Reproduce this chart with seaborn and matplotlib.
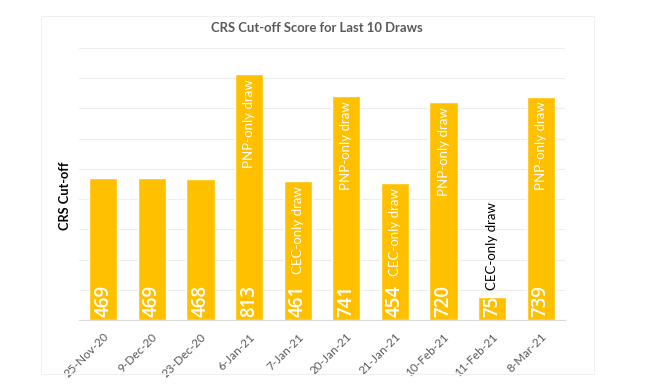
import matplotlib
matplotlib.use("Agg")
import matplotlib.pyplot as plt
import matplotlib.patches as mpatches
import seaborn as sns

# data
draw_dates = ["25-Nov-20", "9-Dec-20", "23-Dec-20", "6-Jan-21", "7-Jan-21",
              "20-Jan-21", "21-Jan-21", "10-Feb-21", "11-Feb-21", "8-Mar-21"]
crs_scores = [469, 469, 468, 813, 461, 741, 454, 720, 75, 739]
draw_notes = ["", "", "", "PNP-only draw", "CEC-only draw", "PNP-only draw",
              "CEC-only draw", "PNP-only draw", "CEC-only draw", "PNP-only draw"]
y_ticks = [0, 100, 200, 300, 400, 500, 600, 700, 800, 900]

BAR_COLOR = "#FFC000"
GREY_TEXT = "#595959"


def main():
    sns.set_style("white")
    plt.rcParams["font.family"] = ["Lato", "DejaVu Sans"]

    fig = plt.figure(figsize=(6.45, 3.9), dpi=100)
    ax = fig.add_axes([0.1225, 0.1795, 0.7535, 0.6975])

    # faint chart-area border like the Excel export
    fig.patches.append(mpatches.Rectangle(
        (0.0636, 0.041), 0.857, 0.918, transform=fig.transFigure,
        fill=False, edgecolor="#F0F0F0", linewidth=0.8, zorder=0))

    sns.barplot(x=draw_dates, y=crs_scores, color=BAR_COLOR, saturation=1,
                width=0.58, ax=ax, zorder=3)

    ax.set_ylim(0, 900)
    ax.set_xlim(-0.5, len(draw_dates) - 0.5)
    ax.set_yticks(y_ticks)
    ax.set_yticklabels([])
    ax.tick_params(axis="y", length=0)
    ax.grid(axis="y", color="#EDEDED", linewidth=0.8, zorder=0)
    ax.set_axisbelow(True)

    for side in ["top", "right", "left"]:
        ax.spines[side].set_visible(False)
    ax.spines["bottom"].set_color("#D9D9D9")
    ax.spines["bottom"].set_linewidth(0.8)

    ax.set_xlabel("")
    ax.set_ylabel("")
    ax.set_xticks(range(len(draw_dates)))
    ax.set_xticklabels(draw_dates, rotation=45, ha="right",
                       rotation_mode="anchor", fontsize=8.5, color=GREY_TEXT)
    ax.tick_params(axis="x", which="major", length=0, pad=8)
    ax.set_xticks([i - 0.5 for i in range(len(draw_dates) + 1)], minor=True)
    ax.tick_params(axis="x", which="minor", length=4, color="#E0E0E0",
                   width=0.8)

    for i, (score, note) in enumerate(zip(crs_scores, draw_notes)):
        ax.annotate(str(score), xy=(i, 0), xytext=(0, 3),
                    textcoords="offset pixels", rotation=90, ha="center",
                    va="bottom", color="white", fontsize=13.5,
                    fontweight="semibold",
                    family=["Open Sans", "DejaVu Sans"])
        if not note:
            continue
        if score < 200:
            ax.annotate(note, xy=(i, score), xytext=(0, 7),
                        textcoords="offset pixels", rotation=90,
                        ha="center", va="bottom", color="black",
                        fontsize=9.5)
        else:
            ax.annotate(note, xy=(i, score), xytext=(0, -5),
                        textcoords="offset pixels", rotation=90,
                        ha="center", va="top", color="white", fontsize=9.5)

    fig.text(0.4915, 0.928, "CRS Cut-off Score for Last 10 Draws",
             ha="center", va="center", fontsize=9.4, fontweight="bold",
             color=GREY_TEXT)
    fig.text(0.1008, 0.497, "CRS Cut-off", rotation=90, ha="center",
             va="center", fontsize=9.2, fontweight="bold", color="black")

    fig.savefig("out.png", dpi=100)
    plt.close(fig)


if __name__ == "__main__":
    main()
